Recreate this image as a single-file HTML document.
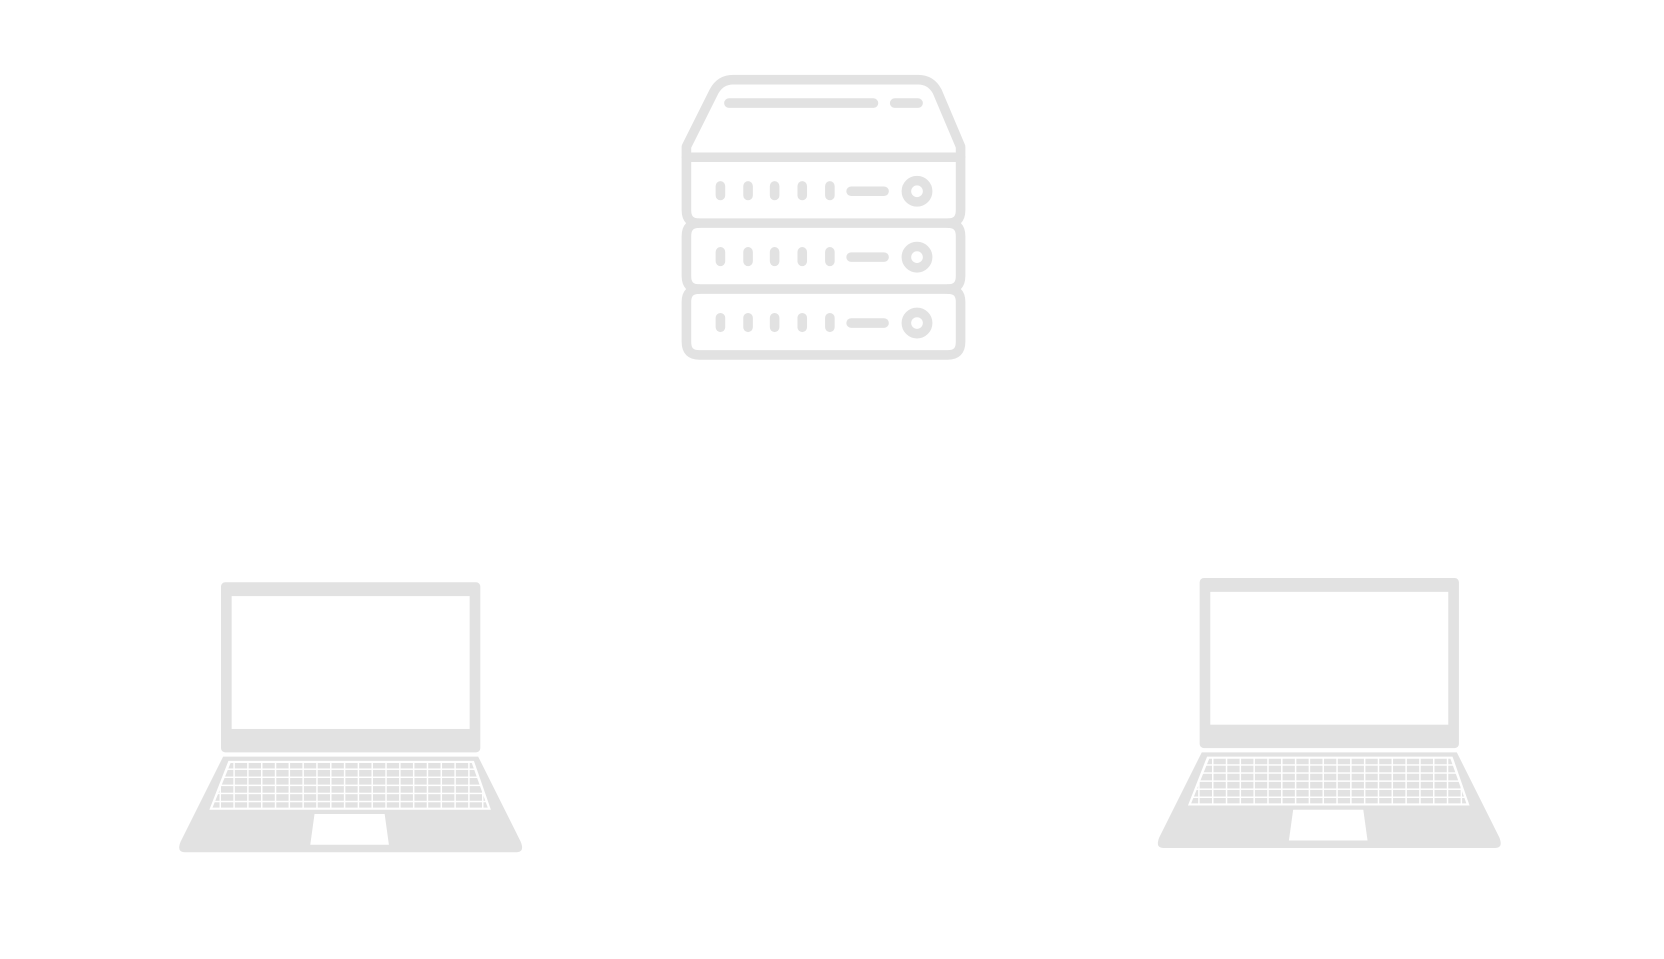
<!DOCTYPE html>
<html><head><style>html,body{margin:0;padding:0;background:#fff;width:1664px;height:959px;overflow:hidden}</style></head>
<body>
<svg width="1664" height="959" viewBox="0 0 1566 902.5" xmlns="http://www.w3.org/2000/svg">
<defs>
<pattern id="keys" x="0" y="717" width="13" height="7.6" patternUnits="userSpaceOnUse">
<rect x="0" y="0" width="11.6" height="6.2" fill="#e2e2e2"/>
</pattern>
<g id="lap">
<rect x="208" y="548" width="244" height="160" rx="4" fill="#e2e2e2"/>
<rect x="218" y="561" width="224" height="125" fill="#fff"/>
<path d="M210,712 L450,712 L490,792 Q494,802 486,802 L174,802 Q166,802 170,792 Z" fill="#e2e2e2"/>
<path d="M215,716 L446,716 L462,762 L197,762 Z" fill="#fff"/>
<path d="M217,718 L444,718 L459,760 L200,760 Z" fill="url(#keys)"/>
<path d="M296,766 L362,766 L366,795 L292,795 Z" fill="#fff"/>
</g>
</defs>
<g fill="none" stroke="#e2e2e2" stroke-width="9" stroke-linecap="round" stroke-linejoin="round">
<path d="M646,148 L646,138 L672,86 Q678,75 690,75 L864,75 Q876,75 882,86 L904,138 L904,148 Z"/>
<path d="M646,148 L904,148 L904,198 Q904,210 892,210 L658,210 Q646,210 646,198 Z"/>
<path d="M658,210 Q646,210 646,222 L646,260 Q646,272 658,272 L892,272 Q904,272 904,260 L904,222 Q904,210 892,210"/>
<path d="M658,272 Q646,272 646,284 L646,322 Q646,334 658,334 L892,334 Q904,334 904,322 L904,284 Q904,272 892,272"/>
<line x1="686" y1="97" x2="822" y2="97"/><line x1="842" y1="97" x2="864" y2="97"/>
<g id="row">
<line x1="678" y1="175" x2="678" y2="184"/><line x1="704" y1="175" x2="704" y2="184"/><line x1="729" y1="175" x2="729" y2="184"/><line x1="755" y1="175" x2="755" y2="184"/><line x1="781" y1="175" x2="781" y2="184"/>
<line x1="801" y1="180" x2="832" y2="180"/>
<circle cx="863" cy="180" r="10"/>
</g>
<use href="#row" y="62"/><use href="#row" y="124"/>
</g>
<use href="#lap"/>
<use href="#lap" x="921" y="-4"/>
</svg>
</body></html>
